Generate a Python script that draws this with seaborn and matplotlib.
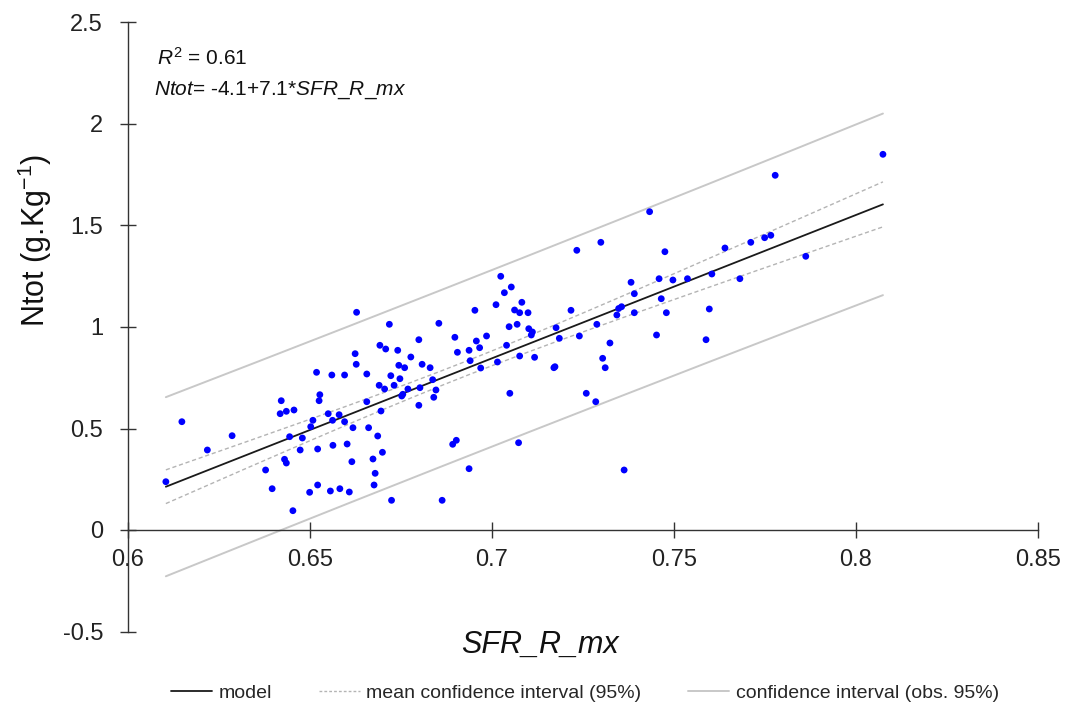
import numpy as np
import matplotlib
matplotlib.use("Agg")
import matplotlib.pyplot as plt
from matplotlib.lines import Line2D
import seaborn as sns

# ---------------- data ----------------
sfr_r_mx = [
    0.6628, 0.6624, 0.6627, 0.6656, 0.6518, 0.6560, 0.6595, 0.6527, 0.6525, 0.6421,
    0.6418, 0.6435, 0.6456, 0.6148, 0.6656, 0.6550, 0.6580, 0.6562, 0.6508, 0.6502,
    0.6595, 0.6618, 0.6661, 0.6286, 0.6444, 0.6479, 0.6218, 0.6473, 0.6521, 0.6563,
    0.6602, 0.6430, 0.6435, 0.6615, 0.6378, 0.6104, 0.6396, 0.6499, 0.6521, 0.6556,
    0.6582, 0.6608, 0.6453,
    0.7233, 0.7299, 0.7024, 0.7053, 0.7034, 0.7011, 0.6953, 0.7082, 0.7062, 0.7076,
    0.7099, 0.7217, 0.6718, 0.6854, 0.7047, 0.7069, 0.7101, 0.7111, 0.7108, 0.7176,
    0.7185, 0.7240, 0.7288, 0.7343, 0.7348, 0.6799, 0.6898, 0.6985, 0.7040, 0.6692,
    0.6708, 0.6741, 0.6905, 0.6937, 0.6957, 0.6966, 0.7076, 0.7117, 0.7324, 0.6777,
    0.6808, 0.6744, 0.6760, 0.6830, 0.6940, 0.6969, 0.7015, 0.7170, 0.7173, 0.7304,
    0.7311, 0.6722, 0.6747, 0.6690, 0.6705, 0.6731, 0.6769, 0.6802, 0.6837, 0.6846,
    0.6755, 0.6752, 0.6840, 0.6799, 0.7049, 0.7259, 0.7285, 0.6695, 0.6686, 0.6699,
    0.6673, 0.6679, 0.6892, 0.6902, 0.7073, 0.6937,
    0.7778, 0.7433, 0.7475, 0.7640, 0.7711, 0.7749, 0.7766, 0.7862, 0.7382, 0.7391,
    0.7459, 0.7497, 0.7537, 0.7604, 0.7681, 0.7465, 0.7356, 0.7391, 0.7479, 0.7597,
    0.7452, 0.7588,
    0.7363, 0.8074, 0.6676, 0.6724, 0.6863,
]

ntot = [
    1.0724, 0.8685, 0.8163, 0.7685, 0.7768, 0.7635, 0.7635, 0.6665, 0.6369, 0.6369,
    0.5729, 0.5847, 0.5911, 0.5335, 0.6320, 0.5729, 0.5680, 0.5404, 0.5404, 0.5089,
    0.5335, 0.5039, 0.5039, 0.4645, 0.4596, 0.4532, 0.3941, 0.3941, 0.3990, 0.4172,
    0.4236, 0.3483, 0.3300, 0.3365, 0.2956, 0.2379, 0.2034, 0.1857, 0.2217, 0.1921,
    0.2034, 0.1872, 0.0951,
    1.3778, 1.4172, 1.2498, 1.1970, 1.1690, 1.1099, 1.0823, 1.1217, 1.0837, 1.0704,
    1.0704, 1.0823, 1.0133, 1.0182, 1.0015, 1.0133, 0.9916, 0.9754, 0.9606, 0.9966,
    0.9443, 0.9557, 1.0133, 1.0591, 1.0911, 0.9374, 0.9493, 0.9557, 0.9099, 0.9099,
    0.8916, 0.8852, 0.8754, 0.8852, 0.9310, 0.8980, 0.8571, 0.8507, 0.9212, 0.8522,
    0.8163, 0.8113, 0.7995, 0.7995, 0.8340, 0.7980, 0.8276, 0.7995, 0.8044, 0.8458,
    0.7995, 0.7601, 0.7453, 0.7128, 0.6946, 0.7128, 0.6946, 0.7010, 0.7404, 0.6897,
    0.6685, 0.6601, 0.6537, 0.6143, 0.6734, 0.6734, 0.6320, 0.5862, 0.4631, 0.3828,
    0.3498, 0.2793, 0.4222, 0.4419, 0.4300, 0.3020,
    1.7473, 1.5680, 1.3709, 1.3892, 1.4172, 1.4399, 1.4517, 1.3483, 1.2202, 1.1640,
    1.2379, 1.2315, 1.2379, 1.2611, 1.2379, 1.1394, 1.1000, 1.0704, 1.0704, 1.0887,
    0.9606, 0.9374,
    0.2956, 1.8507, 0.2217, 0.1463, 0.1463,
]

x_ticks = [0.6, 0.65, 0.7, 0.75, 0.8, 0.85]
x_tick_labels = ["0.6", "0.65", "0.7", "0.75", "0.8", "0.85"]
y_ticks = [-0.5, 0, 0.5, 1, 1.5, 2, 2.5]
y_tick_labels = ["-0.5", "0", "0.5", "1", "1.5", "2", "2.5"]
legend_labels = ["model", "mean confidence interval (95%)", "confidence interval (obs. 95%)"]

# ---------------- style ----------------
sns.set_style("ticks")
plt.rcParams["font.family"] = ["Liberation Sans", "DejaVu Sans"]
plt.rcParams["mathtext.fontset"] = "custom"
plt.rcParams["mathtext.rm"] = "Liberation Sans"
plt.rcParams["mathtext.it"] = "Liberation Sans:italic"

fig = plt.figure(figsize=(10.69, 7.08), dpi=100)
ax = fig.add_axes([128 / 1069, 1 - 631.5 / 708, 910 / 1069, 609 / 708])

# ---------------- regression ----------------
X = np.asarray(sfr_r_mx)
Y = np.asarray(ntot)
n = len(X)
b1, b0 = np.polyfit(X, Y, 1)
resid = Y - (b0 + b1 * X)
s = np.sqrt(np.sum(resid ** 2) / (n - 2))
xbar = X.mean()
sxx = np.sum((X - xbar) ** 2)
t95 = 1.977
xs = np.linspace(X.min(), X.max(), 200)
yfit = b0 + b1 * xs
se_mean = s * np.sqrt(1 / n + (xs - xbar) ** 2 / sxx)
se_obs = s * np.sqrt(1 + 1 / n + (xs - xbar) ** 2 / sxx)

obs_col = "#c8c8c8"
mean_col = "#b4b4b4"
ax.plot(xs, yfit + t95 * se_obs, color=obs_col, lw=1.4, zorder=1)
ax.plot(xs, yfit - t95 * se_obs, color=obs_col, lw=1.4, zorder=1)
ax.plot(xs, yfit + t95 * se_mean, color=mean_col, lw=1.0, ls=(0, (3, 2)), zorder=1)
ax.plot(xs, yfit - t95 * se_mean, color=mean_col, lw=1.0, ls=(0, (3, 2)), zorder=1)

sns.scatterplot(x=X, y=Y, color="#0000ff", s=24, edgecolor="none", ax=ax, zorder=3)
ax.plot(xs, yfit, color="#1a1a1a", lw=1.3, zorder=2)

# ---------------- axes ----------------
ax.set_xlim(0.6, 0.85)
ax.set_ylim(-0.5, 2.5)
ax.set_xticks(x_ticks)
ax.set_xticklabels(x_tick_labels)
ax.set_yticks(y_ticks)
ax.set_yticklabels(y_tick_labels)
ax.spines["bottom"].set_position(("data", 0))
ax.spines["top"].set_visible(False)
ax.spines["right"].set_visible(False)
for sp in ("left", "bottom"):
    ax.spines[sp].set_color("#333333")
    ax.spines[sp].set_linewidth(1.0)
ax.tick_params(axis="both", direction="inout", length=12, width=1.0, color="#333333",
               labelsize=17, labelcolor="#222222")
ax.tick_params(axis="y", pad=12)
ax.tick_params(axis="x", pad=8)
ax.set_xlabel("")
ax.set_ylabel("")

fig.text(540 / 1069, 1 - 645 / 708, "SFR_R_mx", fontsize=22, style="italic",
         ha="center", va="center", color="#111111")
fig.text(35 / 1069, 1 - 240 / 708, r"Ntot (g.Kg$^{\mathrm{-1}}$)", fontsize=22,
         rotation=90, ha="center", va="center", color="#111111")

fig.text(157 / 1069, 1 - 58 / 708, r"$R^{\mathrm{2}}$ = 0.61", fontsize=15,
         ha="left", va="center", color="#111111")
fig.text(154 / 1069, 1 - 90 / 708, r"$Ntot$= -4.1+7.1*$SFR\_R\_mx$", fontsize=15,
         ha="left", va="center", color="#111111")

handles = [
    Line2D([], [], color="#1a1a1a", lw=1.3),
    Line2D([], [], color=mean_col, lw=1.0, ls=(0, (2, 1.5))),
    Line2D([], [], color=obs_col, lw=1.4),
]
fig.legend(handles, legend_labels, loc="center", bbox_to_anchor=(585 / 1069, 1 - 693 / 708),
           ncol=3, frameon=False, handlelength=2.1, handletextpad=0.35,
           columnspacing=2.4, prop={"family": "Liberation Sans", "size": 14})

fig.savefig("out.png", dpi=100)
